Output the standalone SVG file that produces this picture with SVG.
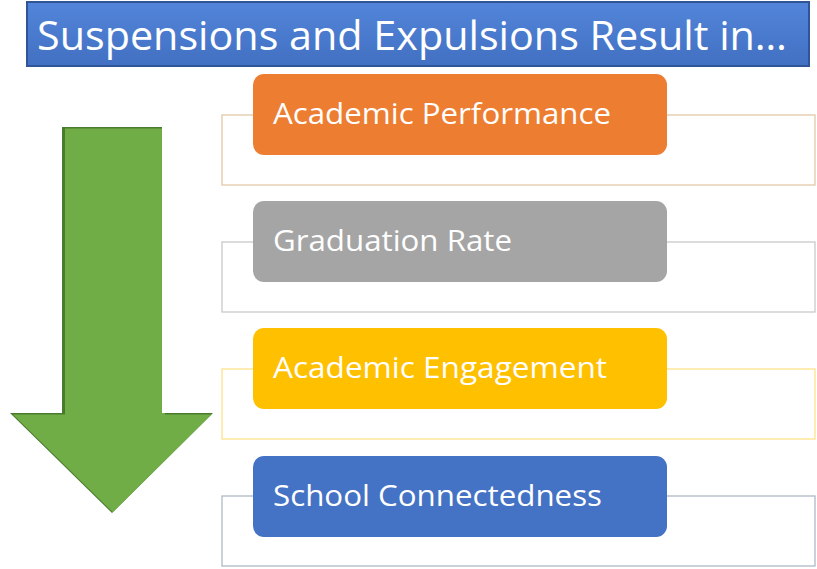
<svg xmlns="http://www.w3.org/2000/svg" width="817" height="569" viewBox="0 0 817 569">
<defs>
<linearGradient id="tg" x1="0" y1="0" x2="0" y2="1">
<stop offset="0" stop-color="#5285DA"/>
<stop offset="1" stop-color="#4270C2"/>
</linearGradient>
<clipPath id="ac"><polygon points="62,127 162,127 162,413 213,413 112,513 10,413 62,413"/></clipPath>
</defs>
<style>
.lbl{font-family:"Open Sans","Liberation Sans",sans-serif;font-size:29px;fill:#FFFFFF}
.card{stroke:none}
.out{fill:#FFFFFF;stroke-width:1.3}
</style>
<g id="title">
<rect x="27" y="2" width="782" height="64" fill="url(#tg)" stroke="#2F5597" stroke-width="2"/>
<text x="37" y="50" font-family="'Open Sans','Liberation Sans',sans-serif" font-size="40" fill="#FFFFFF" textLength="750" lengthAdjust="spacingAndGlyphs">Suspensions and Expulsions Result in…</text>
</g>
<g id="arrow">
<polygon points="62,127 162,127 162,413 213,413 112,513 10,413 62,413" fill="#4A7A2E"/>
<g clip-path="url(#ac)">
<polygon points="62,127 162,127 162,413 213,413 112,513 10,413 62,413" transform="translate(3,1.5)" fill="#70AD47"/>
</g>
</g>
<g id="item1">
<rect class="out" x="222" y="115" width="593" height="70" stroke="#E3C9A6"/>
<rect class="card" x="253" y="74" width="414" height="81" rx="11" fill="#ED7D31"/>
<text class="lbl" x="273" y="124" textLength="338" lengthAdjust="spacingAndGlyphs">Academic Performance</text>
</g>
<g id="item2">
<rect class="out" x="222" y="242" width="593" height="70" stroke="#C9C9C9"/>
<rect class="card" x="253" y="201" width="414" height="81" rx="11" fill="#A5A5A5"/>
<text class="lbl" x="273" y="251" textLength="239" lengthAdjust="spacingAndGlyphs">Graduation Rate</text>
</g>
<g id="item3">
<rect class="out" x="222" y="369" width="593" height="70" stroke="#FFE28A"/>
<rect class="card" x="253" y="328" width="414" height="81" rx="11" fill="#FFC000"/>
<text class="lbl" x="273" y="378" textLength="334" lengthAdjust="spacingAndGlyphs">Academic Engagement</text>
</g>
<g id="item4">
<rect class="out" x="222" y="496" width="593" height="70" stroke="#AEB9C6"/>
<rect class="card" x="253" y="456" width="414" height="81" rx="11" fill="#4472C4"/>
<text class="lbl" x="273" y="506" textLength="329" lengthAdjust="spacingAndGlyphs">School Connectedness</text>
</g>
<g id="connectors"/>
</svg>
